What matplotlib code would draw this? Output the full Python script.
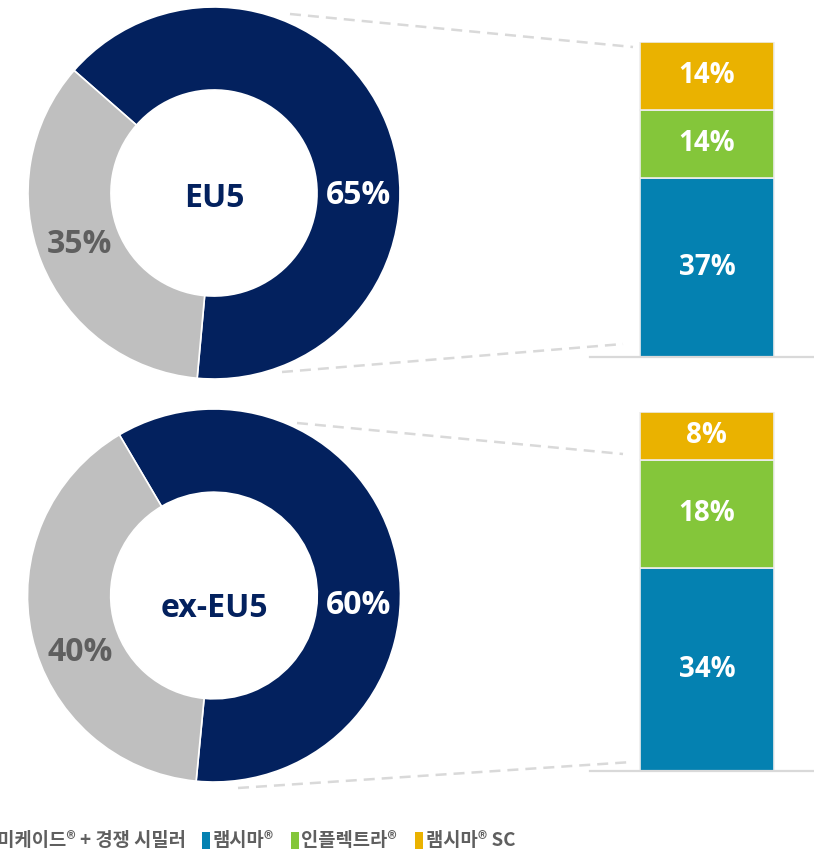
import matplotlib
matplotlib.use("Agg")
import matplotlib.pyplot as plt
import numpy as np
from matplotlib.lines import Line2D
from matplotlib.patches import Rectangle

# ---------------- data ----------------
regions = ["EU5", "ex-EU5"]
donut_labels = ["램시마 계열", "레미케이드® + 경쟁 시밀러"]
donut_eu5 = [65, 35]
donut_exeu5 = [60, 40]
bar_series = ["램시마®", "인플렉트라®", "램시마® SC"]
bar_eu5 = [37, 14, 14]
bar_exeu5 = [34, 18, 8]
legend_labels = ["레미케이드® + 경쟁 시밀러", "램시마®", "인플렉트라®", "램시마® SC"]

# ---------------- style ----------------
NAVY = "#03215E"
GREY = "#BFBFBF"
BAR_COLORS = ["#0481B1", "#84C63A", "#EAB200"]
TXT_GREY = "#5F5F5F"
LINE_GREY = "#D9D9D9"

W, H = 814, 859
fig = plt.figure(figsize=(W / 100, H / 100), dpi=100)


def fx(x):
    return x / W


def fy(y):
    return 1 - y / H


def add_ax_px(x0, y0, x1, y1):
    # pixel box (top-left origin) -> figure axes
    return fig.add_axes([fx(x0), fy(y1), (x1 - x0) / W, (y1 - y0) / H])


NUM_FONT = ["Open Sans", "DejaVu Sans"]
KR_FONT = ["Noto Sans CJK KR", "DejaVu Sans"]

# donut layout: (cx, cy, r, startangle, label angles, center text offset)
donut_layout = [
    dict(cx=214, cy=193, r=186, start=-95.2, ang=[-1, 201], dy=-0.03),
    dict(cx=214, cy=595.5, r=186.5, start=-95.5, ang=[-4, 203], dy=-0.07),
]
donut_data = [donut_eu5, donut_exeu5]

for reg, vals, L in zip(regions, donut_data, donut_layout):
    ax = add_ax_px(L["cx"] - L["r"], L["cy"] - L["r"], L["cx"] + L["r"], L["cy"] + L["r"])
    ax.pie(vals, colors=[NAVY, GREY], startangle=L["start"], counterclock=True,
           radius=1.0, wedgeprops=dict(width=0.446, edgecolor="white", linewidth=1.2))
    ax.set_xlim(-1, 1)
    ax.set_ylim(-1, 1)
    ax.set_aspect("equal")
    ax.axis("off")
    rr = 1 - 0.446 / 2
    for v, a, c in zip(vals, L["ang"], ["white", TXT_GREY]):
        ax.text(rr * np.cos(np.radians(a)), rr * np.sin(np.radians(a)), f"{v}%",
                ha="center", va="center", color=c, fontsize=23, fontweight="bold",
                family=NUM_FONT)
    ax.text(0, L["dy"], reg, ha="center", va="center", color=NAVY, fontsize=23,
            fontweight="bold", family=NUM_FONT)

# bar layout: pixel boxes (x0, top, x1, baseline)
bar_layout = [
    dict(x0=590, x1=814, top=42, base=357),
    dict(x0=590, x1=814, top=412, base=771),
]
bar_data = [bar_eu5, bar_exeu5]
BAR_X = 0.522
BAR_W = 0.598

for vals, L in zip(bar_data, bar_layout):
    ax = add_ax_px(L["x0"], L["top"], L["x1"], L["base"])
    bottom = 0
    for v, col in zip(vals, BAR_COLORS):
        ax.bar([BAR_X], [v], bottom=bottom, width=BAR_W, color=col,
               edgecolor="#EDEDED", linewidth=1.2)
        ax.text(BAR_X, bottom + v / 2, f"{v}%", ha="center", va="center",
                color="white", fontsize=20, fontweight="bold", family=NUM_FONT)
        bottom += v
    ax.set_xlim(0, 1)
    ax.set_ylim(0, sum(vals))
    for s in ["top", "right", "left"]:
        ax.spines[s].set_visible(False)
    ax.spines["bottom"].set_color(LINE_GREY)
    ax.spines["bottom"].set_linewidth(1.6)
    ax.set_xticks([])
    ax.set_yticks([])
    ax.patch.set_alpha(0)

# dashed connector lines (pixel coords)
connectors = [
    ((290, 14), (633, 47)),
    ((282, 372), (623, 344)),
    ((297, 423), (623, 454)),
    ((238, 788), (632, 762)),
]
for (x0, y0), (x1, y1) in connectors:
    fig.add_artist(Line2D([fx(x0), fx(x1)], [fy(y0), fy(y1)], transform=fig.transFigure,
                          color=LINE_GREY, linewidth=1.8, linestyle=(0, (4.4, 2.8))))

# legend (manual, first entry clipped at the left edge as in the reference)
LEG_Y = 841
LEG_FS = 13.5
fig.text(fx(186), fy(LEG_Y), legend_labels[0], ha="right", va="center",
         color=TXT_GREY, fontsize=LEG_FS, fontweight="bold", family=KR_FONT)
leg_items = [(202, 213), (291, 301), (415, 426)]
for (sx, tx), lab, col in zip(leg_items, legend_labels[1:], BAR_COLORS):
    fig.add_artist(Rectangle((fx(sx), fy(849)), 8 / W, 17 / H, transform=fig.transFigure,
                             color=col, linewidth=0))
    fig.text(fx(tx), fy(LEG_Y), lab, ha="left", va="center",
             color=TXT_GREY, fontsize=LEG_FS, fontweight="bold", family=KR_FONT)

fig.savefig("out.png", dpi=100, facecolor="white")
